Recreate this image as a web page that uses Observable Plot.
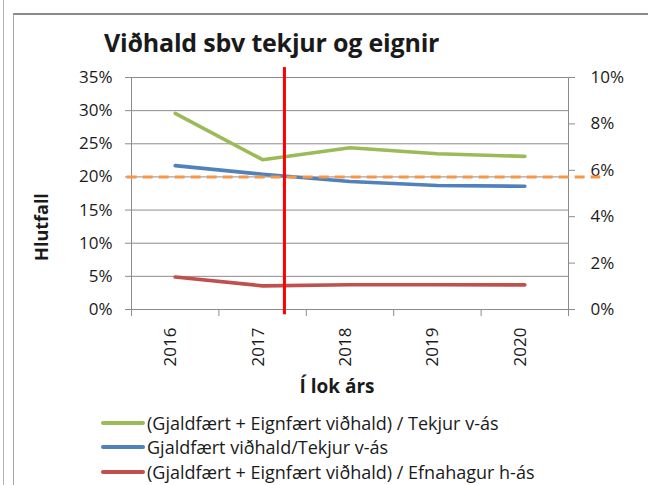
<!DOCTYPE html>
<html>
<head>
<meta charset="utf-8">
<script src="https://cdn.jsdelivr.net/npm/d3@7"></script>
<script src="https://cdn.jsdelivr.net/npm/@observablehq/plot@0.6"></script>
<style>
  html, body { margin: 0; padding: 0; background: #fff; }
  #wrap { position: relative; width: 648px; height: 485px; overflow: hidden; font-family: "Open Sans", Lato, sans-serif; color: #1a1a1a; }
  #wrap svg { position: absolute; left: 0; top: 0; }
  .abs { position: absolute; white-space: nowrap; }
  .title { left: 104px; top: 42px; font-size: 25px; font-weight: 700; letter-spacing: -0.2px; transform: translateY(-50%); }
  .ytitle { left: 41px; top: 227px; font-size: 18px; font-weight: 700; transform: translate(-50%, -50%) rotate(-90deg); }
  .xtitle { left: 337px; top: 386px; font-size: 19px; font-weight: 700; transform: translate(-50%, -50%); }
  .leg { left: 101px; font-size: 18px; display: flex; align-items: center; transform: translateY(-50%); }
  .leg .sw { width: 44px; height: 4px; border-radius: 2px; margin-right: 2px; }
</style>
</head>
<body>
<div id="wrap">
  <div class="abs" style="left:3px;top:0;width:0;height:485px;border-left:1px solid #b3b3b3;"></div>
  <div class="abs" style="left:13px;top:13px;width:634px;height:480px;border-left:1px solid #a6a6a6;border-top:2px solid #8a8a8a;border-right:1px solid #cfcfcf;"></div>
</div>
<script>
const years = [2016, 2017, 2018, 2019, 2020];
const seriesNames = [
  "(Gjaldfært + Eignfært viðhald) / Tekjur v-ás",
  "Gjaldfært viðhald/Tekjur v-ás",
  "(Gjaldfært + Eignfært viðhald) / Efnahagur h-ás"
];
const seriesColors = ["#9bbb59", "#4f81bd", "#c0504d"];
// left axis (v-ás) series
const totalPerRevenue = [0.296, 0.226, 0.244, 0.235, 0.231];
const expensedPerRevenue = [0.217, 0.204, 0.193, 0.187, 0.186];
// right axis (h-ás) series
const totalPerAssets = [0.0140, 0.0102, 0.0107, 0.0107, 0.0106];
const leftTicks = [0, 0.05, 0.10, 0.15, 0.20, 0.25, 0.30, 0.35];
const rightTicks = [0, 0.02, 0.04, 0.06, 0.08, 0.10];
const referenceLevel = 0.20;   // dashed orange line (left axis)
const markerYear = 2017.25;    // red vertical marker
const titleText = "Viðhald sbv tekjur og eignir";
const yTitle = "Hlutfall";
const xTitle = "Í lok árs";

const ratio = 0.35 / 0.10; // right axis -> left axis scale
const pct = d => Math.round(d * 100) + "%";
const gray = "#8c8c8c";

const mk = (vals, tf = v => v) => years.map((y, i) => ({x: y, y: tf(vals[i])}));
const boundaries = [...years.map(y => y - 0.5), years[years.length - 1] + 0.5];

const chart = Plot.plot({
  width: 648,
  height: 400,
  marginLeft: 131,
  marginRight: 80,
  marginTop: 77,
  marginBottom: 91,
  x: {domain: [2015.5, 2020.5], axis: null},
  y: {domain: [0, 0.35], axis: null},
  style: {fontFamily: "'Open Sans', Lato, sans-serif", fontSize: "17px", color: "#1a1a1a", background: "transparent", overflow: "visible"},
  marks: [
    Plot.gridY(leftTicks, {stroke: gray, strokeOpacity: 1, strokeWidth: 1}),
    Plot.ruleX([2015.5, 2020.5], {stroke: gray, strokeWidth: 1}),
    Plot.axisY(leftTicks, {anchor: "left", label: null, tickSize: 6, tickPadding: 13, tickFormat: pct, stroke: gray, fill: "#1a1a1a"}),
    Plot.axisY(rightTicks.map(d => d * ratio), {anchor: "right", label: null, tickSize: 6, tickPadding: 16, tickFormat: d => pct(d / ratio), stroke: gray, fill: "#1a1a1a"}),
    Plot.axisX(boundaries, {anchor: "bottom", label: null, tickSize: 7, tickFormat: () => "", stroke: gray}),
    Plot.text(years, {x: d => d, frameAnchor: "bottom", dy: 18, dx: 1, rotate: -90, textAnchor: "end", text: d => String(d), fill: "#1a1a1a"}),
    Plot.line(mk(totalPerRevenue), {x: "x", y: "y", stroke: seriesColors[0], strokeWidth: 3.6, strokeLinecap: "round", strokeLinejoin: "round"}),
    Plot.line(mk(expensedPerRevenue), {x: "x", y: "y", stroke: seriesColors[1], strokeWidth: 3.6, strokeLinecap: "round", strokeLinejoin: "round"}),
    Plot.line(mk(totalPerAssets, v => v * ratio), {x: "x", y: "y", stroke: seriesColors[2], strokeWidth: 3.6, strokeLinecap: "round", strokeLinejoin: "round"}),
    Plot.ruleY([referenceLevel], {x1: 2015.45, x2: 2020.87, stroke: "#f79646", strokeWidth: 3, strokeDasharray: "10,6"}),
    Plot.ruleX([markerYear], {y1: -0.008, y2: 0.365, stroke: "#ff0000", strokeWidth: 3})
  ]
});

const wrap = document.getElementById("wrap");
wrap.appendChild(chart);

function addDiv(cls, text, style) {
  const d = document.createElement("div");
  d.className = "abs " + cls;
  if (text != null) d.textContent = text;
  if (style) Object.assign(d.style, style);
  wrap.appendChild(d);
  return d;
}
addDiv("title", titleText);
addDiv("ytitle", yTitle);
addDiv("xtitle", xTitle);
const legY = [423, 447, 472];
seriesNames.forEach((name, i) => {
  const row = addDiv("leg", null, {top: legY[i] + "px"});
  const sw = document.createElement("span");
  sw.className = "sw";
  sw.style.background = seriesColors[i];
  row.appendChild(sw);
  const t = document.createElement("span");
  t.textContent = name;
  row.appendChild(t);
});
</script>
</body>
</html>
